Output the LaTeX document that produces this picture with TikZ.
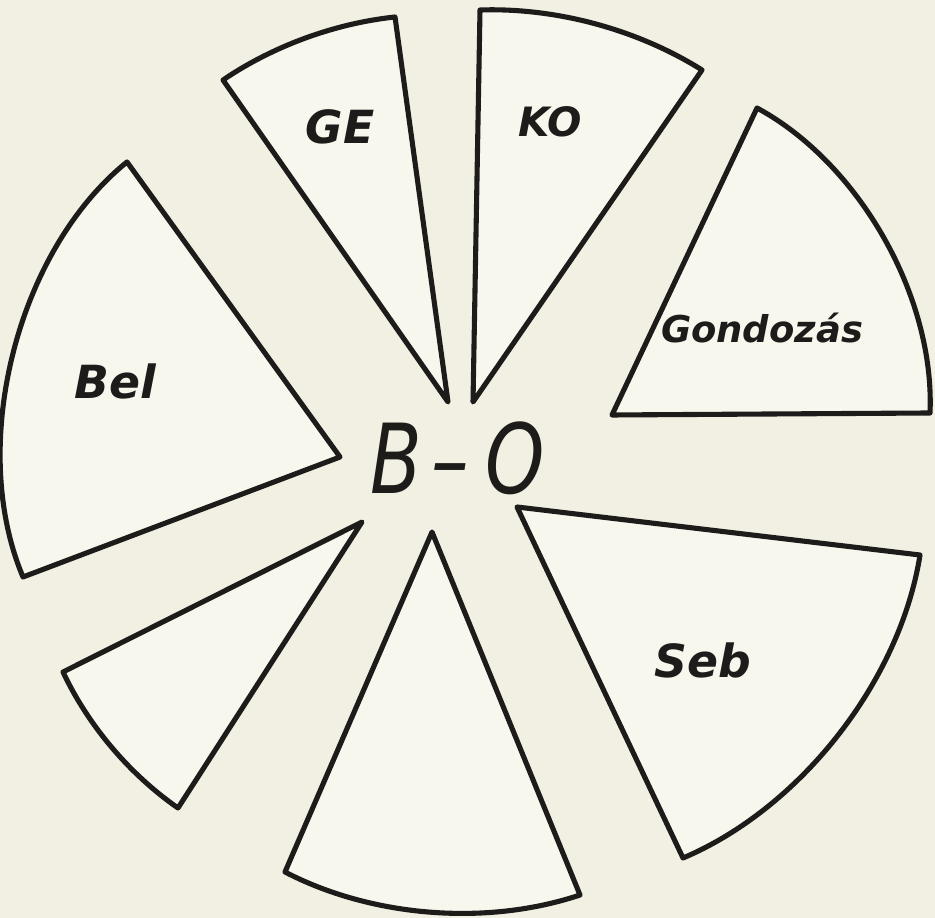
\documentclass[tikz,border=0pt]{standalone}
\usepackage{fontspec}
\setsansfont{DejaVu Sans}
\usepackage{graphicx}
\usetikzlibrary{positioning}
\definecolor{paper}{HTML}{F2F0E2}
\definecolor{sheet}{HTML}{F8F7EE}
\definecolor{ink}{HTML}{1E1C1A}
\tikzset{
  wedge/.style={draw=ink,line width=2.9pt,line join=round,fill=sheet,looseness=0.85},
  tag/.style={font=\sffamily\bfseries\itshape\fontsize{26}{30}\selectfont,text=ink,inner sep=0pt},
  smalltag/.style={tag,font=\sffamily\bfseries\itshape\fontsize{21}{26}\selectfont},
  title/.style={tag,font=\sffamily\itshape\fontsize{55}{60}\selectfont},
}

\begin{document}
\begin{tikzpicture}[x=0.02cm,y=0.02cm]
\fill[paper] (0,0) rectangle (935,918);
\useasboundingbox (0,0) rectangle (935,918);

% wedges: apex, then the outer arc clockwise
\draw[wedge] (448,516) -- (223,838) to[bend left=14] (395,901) -- cycle;
\draw[wedge] (473,516) -- (480,908) to[bend left=17] (702,848) -- cycle;
\draw[wedge] (612,503) -- (757,810) to[bend left=32] (930,505) -- cycle;
\draw[wedge] (517,411) -- (920,363) to[bend left=29] (683,60) -- cycle;
\draw[wedge] (432,386) -- (580,23) to[bend left=23] (285,46) -- cycle;
\draw[wedge] (362,396) -- (178,110) to[bend left=15] (63,246) -- cycle;
\draw[wedge] (340,461) -- (23,341) to[bend left=37] (127,756) -- cycle;

\node[tag] (ge) at (340,791) {GE};
\node[tag,font=\sffamily\bfseries\itshape\fontsize{23}{28}\selectfont] (ko) at (550,796) {KO};
\node[smalltag] (gond) at (762,590) {Gondozás};
\node[tag] (seb) at (703,258) {Seb};
\node[tag] (bel) at (115,537) {Bel};
\node[title] (bo) at (458,460) {\scalebox{0.78}[1]{B\hspace{0.12em}–\hspace{0.22em}O}};
\end{tikzpicture}
\end{document}
